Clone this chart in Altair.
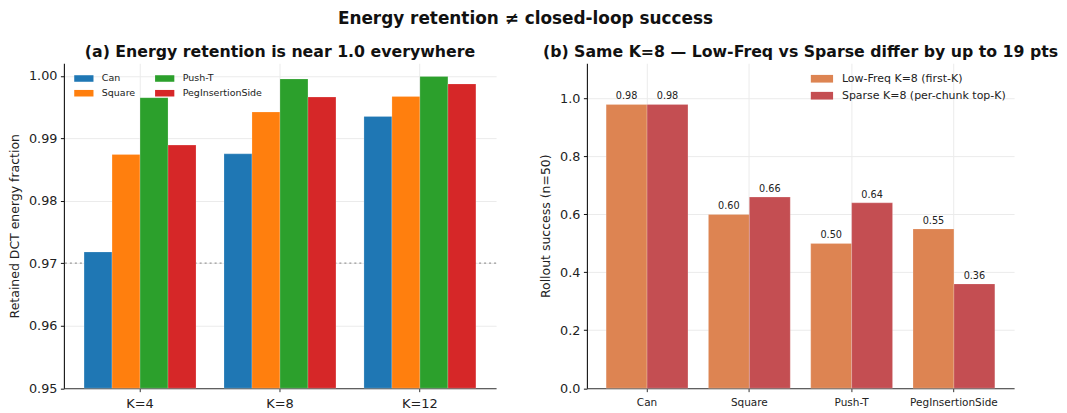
import altair as alt
import pandas as pd

# ---------------- data ----------------
k_labels = ["K=4", "K=8", "K=12"]
tasks = ["Can", "Square", "Push-T", "PegInsertionSide"]
task_colors = ["#1f77b4", "#ff7f0e", "#2ca02c", "#d62728"]
energy_can = [0.9718, 0.9875, 0.9935]
energy_square = [0.9874, 0.9942, 0.9967]
energy_pusht = [0.9965, 0.9995, 0.9999]
energy_peg = [0.9889, 0.9966, 0.9987]
energy_threshold = 0.97

methods = ["Low-Freq K=8 (first-K)", "Sparse K=8 (per-chunk top-K)"]
method_colors = ["#dd8452", "#c44e52"]
lowfreq_success = [0.98, 0.60, 0.50, 0.55]
sparse_success = [0.98, 0.66, 0.64, 0.36]

# ---------------- tables ----------------
rows_a = []
for task, vals in zip(tasks, [energy_can, energy_square, energy_pusht, energy_peg]):
    for k, v in zip(k_labels, vals):
        rows_a.append({"k": k, "task": task, "value": v})
df_a = pd.DataFrame(rows_a)

rows_b = []
for m, vals in zip(methods, [lowfreq_success, sparse_success]):
    for t, v in zip(tasks, vals):
        rows_b.append({"task": t, "method": m, "value": v})
df_b = pd.DataFrame(rows_b)

FONT = "DejaVu Sans"
GRID = "#ebebeb"
H = 325.5

# ---------------- panel (a) ----------------
xa = alt.X("k:N", sort=k_labels,
           scale=alt.Scale(paddingInner=0.2, paddingOuter=0.144),
           axis=alt.Axis(title=None, labelAngle=0, labelFontSize=13, grid=True,
                         gridColor=GRID, bandPosition=0.5, domainColor="#606060",
                         domainWidth=1.3, tickColor="#333", tickSize=3.5,
                         labelPadding=6, labelColor="#222"))
ya_scale = alt.Scale(domain=[0.95, 1.002], zero=False, nice=False)
ya_axis = alt.Axis(values=[0.95, 0.96, 0.97, 0.98, 0.99, 1.00], format=".2f",
                   title="Retained DCT energy fraction", titleFontSize=12.5,
                   titleFontWeight="normal", titleColor="#222", titlePadding=7,
                   labelFontSize=12.8, labelColor="#222", grid=True, gridColor=GRID,
                   domainColor="#111", domainWidth=1.1, tickColor="#111",
                   tickSize=3.5, labelPadding=3.5)

rule_a = alt.Chart(pd.DataFrame({"y": [energy_threshold]})).mark_rule(
    color="#999999", strokeDash=[2, 3], strokeWidth=1.2
).encode(y=alt.Y("y:Q", scale=ya_scale, axis=ya_axis))

legend_path_a = "M-1,-0.34L1,-0.34L1,0.34L-1,0.34Z"
bars_a = alt.Chart(df_a).mark_bar(stroke="white", strokeWidth=0.4, strokeOpacity=0.5).encode(
    x=xa,
    xOffset=alt.XOffset("task:N", sort=tasks, scale=alt.Scale(paddingInner=0, paddingOuter=0)),
    y=alt.Y("value:Q", scale=ya_scale, axis=ya_axis),
    y2=alt.datum(0.95),
    color=alt.Color("task:N",
                    scale=alt.Scale(domain=tasks, range=task_colors),
                    legend=alt.Legend(title=None, orient="none", legendX=10, legendY=5,
                                      columns=2, symbolType=legend_path_a, symbolSize=372,
                                      symbolStrokeWidth=0, labelFontSize=9.5,
                                      labelColor="#222", labelOffset=8, columnPadding=19,
                                      rowPadding=-4, labelLimit=300)),
)

panel_a = alt.layer(rule_a, bars_a).properties(
    width=433, height=H,
    title=alt.TitleParams("(a) Energy retention is near 1.0 everywhere", fontSize=15.8,
                          fontWeight="bold", font=FONT, color="#111", offset=2),
)

# ---------------- panel (b) ----------------
xb = alt.X("task:N", sort=tasks,
           scale=alt.Scale(paddingInner=0.2, paddingOuter=0.188),
           axis=alt.Axis(title=None, labelAngle=0, labelFontSize=10.5, grid=True,
                         gridColor=GRID, bandPosition=0.5, domainColor="#606060",
                         domainWidth=1.3, tickColor="#333", tickSize=3.5,
                         labelPadding=6, labelColor="#222"))
yb_scale = alt.Scale(domain=[0, 1.122], nice=False)
yb_axis = alt.Axis(values=[0.0, 0.2, 0.4, 0.6, 0.8, 1.0], format=".1f",
                   title="Rollout success (n=50)", titleFontSize=12.5,
                   titleFontWeight="normal", titleColor="#222", titlePadding=7,
                   labelFontSize=12.8, labelColor="#222", grid=True, gridColor=GRID,
                   domainColor="#111", domainWidth=1.1, tickColor="#111",
                   tickSize=3.5, labelPadding=3.5)
xoff_b = alt.XOffset("method:N", sort=methods, scale=alt.Scale(paddingInner=0, paddingOuter=0))

legend_path_b = "M-1,-0.345L1,-0.345L1,0.345L-1,0.345Z"
bars_b = alt.Chart(df_b).mark_bar(stroke="white", strokeWidth=0.4, strokeOpacity=0.5).encode(
    x=xb, xOffset=xoff_b,
    y=alt.Y("value:Q", scale=yb_scale, axis=yb_axis),
    color=alt.Color("method:N",
                    scale=alt.Scale(domain=methods, range=method_colors),
                    legend=alt.Legend(title=None, orient="none", legendX=224, legendY=4,
                                      symbolType=legend_path_b, symbolSize=497,
                                      symbolStrokeWidth=0, labelFontSize=11,
                                      labelColor="#222", labelOffset=8.5, rowPadding=-1.5,
                                      labelLimit=400)),
)
labels_b = alt.Chart(df_b).mark_text(fontSize=9.7, dy=-5, baseline="alphabetic",
                                     color="#222", font=FONT).encode(
    x=xb, xOffset=xoff_b,
    y=alt.Y("value:Q", scale=yb_scale, axis=yb_axis),
    text=alt.Text("value:Q", format=".2f"),
)

panel_b = alt.layer(bars_b, labels_b).properties(
    width=428, height=H,
    title=alt.TitleParams("(b) Same K=8 \u2014 Low-Freq vs Sparse differ by up to 19 pts",
                          fontSize=15.8, fontWeight="bold", font=FONT, color="#111", offset=2),
)

chart = alt.hconcat(panel_a, panel_b, spacing=42).resolve_scale(
    color="independent", xOffset="independent"
).properties(
    title=alt.TitleParams("Energy retention \u2260 closed-loop success", fontSize=16.9,
                          fontWeight="bold", font=FONT, color="#111", anchor="middle",
                          offset=17, dx=-8),
    padding={"left": 0, "top": 1, "right": 0, "bottom": 0},
).configure(font=FONT).configure_view(stroke=None).configure_axis(
    labelFont=FONT, titleFont=FONT
).configure_legend(labelFont=FONT)

chart.save("out.html", embed_options={"renderer": "svg", "actions": False})
